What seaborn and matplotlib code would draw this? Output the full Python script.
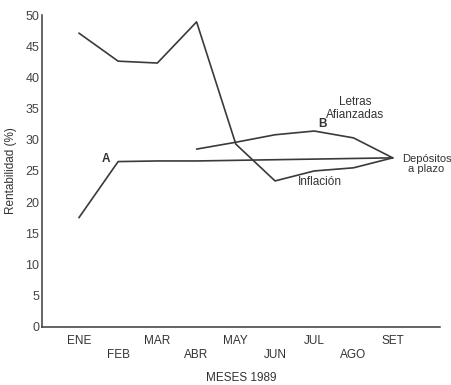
import seaborn as sns
import pandas as pd
import matplotlib.pyplot as plt

# Data
months = ['ENE', 'FEB', 'MAR', 'ABR', 'MAY', 'JUN', 'JUL', 'AGO', 'SET']
inflacion = [47.1, 42.6, 42.3, 48.9, 29.3, 23.4, 25.0, 25.5, 27.1]
depositos = [17.5, 26.5, 26.6, 26.6, 26.7, 26.8, 26.9, 27.0, 27.1]
letras_months = ['ABR', 'MAY', 'JUN', 'JUL', 'AGO', 'SET']
letras = [28.5, 29.6, 30.8, 31.4, 30.3, 27.1]
y_ticks = [0, 5, 10, 15, 20, 25, 30, 35, 40, 45, 50]

sns.set_style('white')
plt.rcParams['font.family'] = ['Liberation Sans', 'DejaVu Sans']
line_color = '#3a3a3a'
text_color = '#333333'

idx = {m: i for i, m in enumerate(months)}
df = pd.concat([
    pd.DataFrame({'mes': range(len(months)), 'valor': inflacion, 'serie': 'Inflación'}),
    pd.DataFrame({'mes': range(len(months)), 'valor': depositos, 'serie': 'Depósitos a plazo'}),
    pd.DataFrame({'mes': [idx[m] for m in letras_months], 'valor': letras, 'serie': 'Letras Afianzadas'}),
], ignore_index=True)

fig = plt.figure(figsize=(4.52, 3.85), dpi=100)
ax = fig.add_axes([0.093, 0.151, 0.880, 0.810])
sns.lineplot(df, x='mes', y='valor', hue='serie', units='serie', estimator=None,
             palette=[line_color] * 3, linewidth=1.2, legend=False, ax=ax)

ax.set_xlim(-0.94, 9.2)
ax.set_ylim(0, 50)
ax.set_yticks(y_ticks)
ax.set_xticks(range(len(months)))
ax.set_xticklabels([m if i % 2 == 0 else '\n' + m for i, m in enumerate(months)], fontsize=8.5, color=text_color)
ax.tick_params(axis='x', length=0, pad=6)
ax.tick_params(axis='y', direction='in', length=6, width=1, color=line_color, labelsize=9, labelcolor='#444444', pad=2)
for s in ['top', 'right']:
    ax.spines[s].set_visible(False)
for s in ['left', 'bottom']:
    ax.spines[s].set_color(line_color)
    ax.spines[s].set_linewidth(1.1)

ax.set_xlabel('MESES 1989', fontsize=8.5, color=text_color, labelpad=8)
ax.set_ylabel('Rentabilidad (%)', fontsize=8.5, color=text_color, labelpad=6)

# Annotations
ax.text(0.8, 26.9, 'A', fontsize=8.5, fontweight='bold', color=text_color, ha='right', va='center')
ax.text(6.2, 31.6, 'B', fontsize=8.5, fontweight='bold', color=text_color, ha='center', va='bottom')
ax.text(7.05, 33.0, 'Letras\nAfianzadas', fontsize=8.5, color=text_color, ha='center', va='bottom', linespacing=1.1)
ax.text(8.86, 26.1, 'Depósitos\na plazo', fontsize=8, color=text_color, ha='center', va='center',
        linespacing=1.1, multialignment='center')
ax.text(5.58, 23.2, 'Inflación', fontsize=8.5, color=text_color, ha='left', va='center')

fig.savefig('out.png', dpi=100)
